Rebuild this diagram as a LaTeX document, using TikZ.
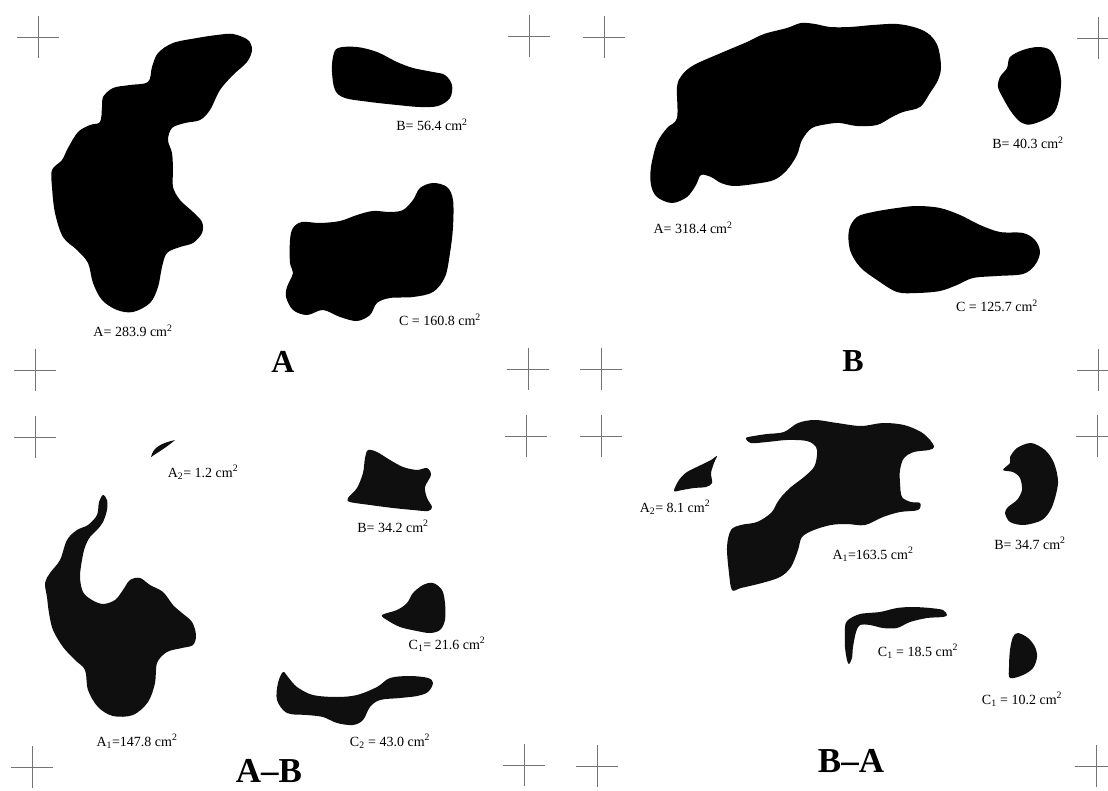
\documentclass[tikz,border=0pt]{standalone}
\usepackage{fontspec}
\setmainfont{Liberation Serif}
\tikzset{
  blob/.style={fill=black, draw=none},
  blobd/.style={fill=black!94, draw=none},
  lbl/.style={font=\fontsize{14}{16}\selectfont, inner sep=0pt, anchor=base},
  ttl/.style={font=\fontsize{32}{36}\selectfont\bfseries, inner sep=0pt, anchor=base},
  ttlw/.style={font=\fontsize{35}{38}\selectfont\bfseries, inner sep=0pt, anchor=base},
  regmark/.style={draw=black!55, line width=0.7pt},
  regx/.pic={\draw[regmark] (-21,0) -- (21,0) (0,-21) -- (0,21);}
}
\newcommand{\sq}{ cm\textsuperscript{2}}
\begin{document}
\begin{tikzpicture}[x=1pt,y=-1pt]
\useasboundingbox[fill=white] (0,0) rectangle (1108,791);

% registration marks
\foreach \p in {(38,37),(529,36),(35,370),(528,369),
                (604,37),(1098,38),(601,369),(1098,370),
                (35,437),(526,436),(32,767),(524,765),
                (601,436),(1097,436),(597,766),(1096,766)}
  \pic at \p {regx};

% ---------------- Panel A ----------------
\fill[blob] plot[smooth cycle, tension=0.55] coordinates {
 (233,34) (248,40) (252,50) (247,62) (233,75) (220,90) (210,110) (200,120) (185,123)
 (172,128) (168,140) (172,153) (173,170) (173,187) (180,200) (193,212) (202,222)
 (202,233) (193,243) (180,247) (167,253) (162,267) (158,287) (150,303) (133,312)
 (117,310) (102,300) (93,283) (88,263) (77,250) (63,237) (55,213) (52,187) (52,170)
 (62,160) (68,148) (78,132) (90,125) (100,122) (102,107) (103,97) (113,88) (130,85)
 (148,82) (152,67) (158,53) (173,43) (197,38) (217,35)};
\fill[blob] plot[smooth cycle, tension=0.55] coordinates {
 (338,48) (357,47) (377,52) (397,62) (413,68) (433,72) (445,75) (452,85) (450,98)
 (438,106) (420,107) (397,105) (370,102) (345,98) (335,90) (332,72) (333,57)};
\fill[blob] plot[smooth cycle, tension=0.55] coordinates {
 (302,222) (320,223) (340,221) (357,215) (373,211) (390,212) (403,210) (413,200)
 (420,188) (433,183) (447,187) (453,200) (453,227) (450,253) (445,277) (433,292)
 (413,297) (390,298) (377,303) (370,315) (357,321) (340,317) (323,310) (307,315)
 (293,310) (286,297) (287,287) (293,273) (290,263) (290,240) (293,228)};
\node[lbl] (lAA) at (133,337) {A= 283.9\sq};
\node[lbl] (lAB) at (432,131) {B= 56.4\sq};
\node[lbl] (lAC) at (440,326) {C = 160.8\sq};
\node[ttl] (tA) at (283,373) {A};

% ---------------- Panel B ----------------
\fill[blob] plot[smooth cycle, tension=0.55] coordinates {
 (801,23) (815,24) (830,27) (850,27) (873,25) (897,24) (917,28) (930,35) (938,47)
 (941,67) (938,80) (930,93) (920,107) (903,112) (892,117) (877,125) (857,126)
 (840,123) (828,124) (812,128) (802,140) (797,155) (787,170) (774,180) (754,184)
 (734,186) (721,183) (711,177) (701,175) (696,185) (687,197) (672,203) (657,197)
 (651,185) (651,167) (657,143) (667,128) (677,118) (677,87) (682,75) (694,65)
 (721,53) (747,42) (764,34) (787,28)};
\fill[blob] plot[smooth cycle, tension=0.55] coordinates {
 (1010,57) (1023,50) (1038,47) (1050,50) (1057,62) (1061,80) (1059,100) (1052,115)
 (1033,124) (1022,123) (1012,113) (1003,98) (998,87) (1000,77) (1007,68)};
\fill[blob] plot[smooth cycle, tension=0.55] coordinates {
 (857,217) (873,212) (897,208) (917,206) (940,208) (960,215) (980,225) (1000,232)
 (1023,233) (1035,240) (1040,252) (1035,265) (1023,274) (997,276) (973,278)
 (957,285) (940,291) (917,293) (897,292) (877,280) (860,267) (850,250) (849,230)};
\node[lbl] (lBA) at (693,234) {A= 318.4\sq};
\node[lbl] (lBB) at (1028,149) {B= 40.3\sq};
\node[lbl] (lBC) at (997,312) {C = 125.7\sq};
\node[ttl] (tB) at (853,372) {B};

% ---------------- Panel A-B ----------------
\fill[blobd] (151,457) .. controls (153,447) and (162,443) .. (175,440)
            .. controls (167,447) and (160,451) .. (151,457) -- cycle;
\fill[blobd] plot[smooth cycle, tension=0.55] coordinates {
 (103,495) (107,500) (107,510) (103,522) (97,530) (90,537) (85,547) (82,560) (80,577)
 (83,592) (92,600) (103,604) (115,600) (123,590) (130,580) (140,578) (150,585)
 (163,592) (173,605) (182,613) (192,622) (196,635) (193,645) (182,648) (167,652)
 (157,663) (155,683) (148,702) (133,715) (113,716) (98,707) (88,690) (85,670)
 (75,660) (63,647) (53,630) (49,613) (47,597) (45,583) (50,573) (60,560) (67,540)
 (77,530) (88,525) (97,515) (99,502)};
\fill[blobd] plot[smooth cycle, tension=0.5] coordinates {
 (368,450) (377,452) (390,460) (403,467) (417,470) (427,468) (431,475) (425,487)
 (427,498) (432,507) (428,511) (413,510) (393,508) (370,505) (350,502) (348,498)
 (357,488) (363,473) (365,458)};
\fill[blobd] plot[smooth cycle, tension=0.55] coordinates {
 (382,615) (397,610) (407,603) (413,593) (423,585) (433,583) (442,590) (445,603)
 (445,620) (440,630) (430,633) (417,631) (400,627) (387,620)};
\fill[blobd] plot[smooth cycle, tension=0.55] coordinates {
 (283,672) (288,677) (297,687) (313,695) (337,697) (357,695) (377,687) (390,678)
 (410,676) (428,678) (433,683) (428,692) (417,696) (400,698) (380,700) (370,707)
 (363,720) (353,725) (337,723) (323,717) (307,715) (287,713) (277,700) (278,683)};
\node[lbl] (lCA2) at (203,477) {A\textsubscript{2}= 1.2\sq};
\node[lbl] (lCB) at (393,532) {B= 34.2\sq};
\node[lbl] (lCC1) at (447,649) {C\textsubscript{1}= 21.6\sq};
\node[lbl] (lCA1) at (137,746) {A\textsubscript{1}=147.8\sq};
\node[lbl] (lCC2) at (390,746) {C\textsubscript{2} = 43.0\sq};
\node[ttlw] (tAB) at (269,782) {A--B};

% ---------------- Panel B-A ----------------
\fill[blobd] plot[smooth cycle, tension=0.5] coordinates {
 (674,491) (679,480) (687,472) (701,465) (711,460) (717,456) (714,463) (711,473)
 (712,483) (706,487) (694,488) (682,490)};
\fill[blobd] plot[smooth cycle, tension=0.55] coordinates {
 (746,438) (754,436) (767,434) (784,432) (798,423) (815,420) (837,423) (861,426)
 (883,423) (904,425) (921,432) (930,440) (934,447) (929,450) (914,452) (904,458)
 (900,470) (900,483) (902,497) (911,502) (920,503) (918,510) (900,512) (883,517)
 (865,525) (847,524) (831,525) (814,530) (802,537) (798,550) (791,567) (780,577)
 (762,583) (741,588) (732,590) (729,573) (727,547) (731,530) (741,525) (757,522)
 (771,513) (777,503) (782,496) (791,487) (804,477) (814,467) (817,455) (816,447)
 (807,441) (787,440) (767,442) (751,443)};
\fill[blobd] plot[smooth cycle, tension=0.5] coordinates {
 (1010,457) (1017,448) (1031,443) (1045,450) (1054,463) (1058,483) (1052,507)
 (1042,520) (1024,525) (1010,522) (1005,513) (1008,507) (1017,500) (1022,490)
 (1020,478) (1013,472) (1003,470) (1010,463)};
\fill[blobd] plot[smooth cycle, tension=0.5] coordinates {
 (845,627) (848,620) (860,614) (880,612) (897,608) (913,607) (930,608) (943,610)
 (947,615) (943,617) (927,618) (910,622) (897,628) (883,628) (870,625) (860,625)
 (856,632) (853,647) (852,658) (849,664) (847,660) (845,647)};
\fill[blobd] plot[smooth cycle, tension=0.55] coordinates {
 (1018,633) (1028,638) (1035,647) (1037,657) (1033,668) (1023,675) (1010,678)
 (1009,667) (1010,650) (1013,637)};
\node[lbl] (lDA2) at (675,512) {A\textsubscript{2}= 8.1\sq};
\node[lbl] (lDA1) at (873,559) {A\textsubscript{1}=163.5\sq};
\node[lbl] (lDB) at (1030,549) {B= 34.7\sq};
\node[lbl] (lDC1) at (918,656) {C\textsubscript{1} = 18.5\sq};
\node[lbl] (lDC2) at (1022,704) {C\textsubscript{1} = 10.2\sq};
\node[ttlw] (tBA) at (851,772) {B--A};
\end{tikzpicture}
\end{document}
